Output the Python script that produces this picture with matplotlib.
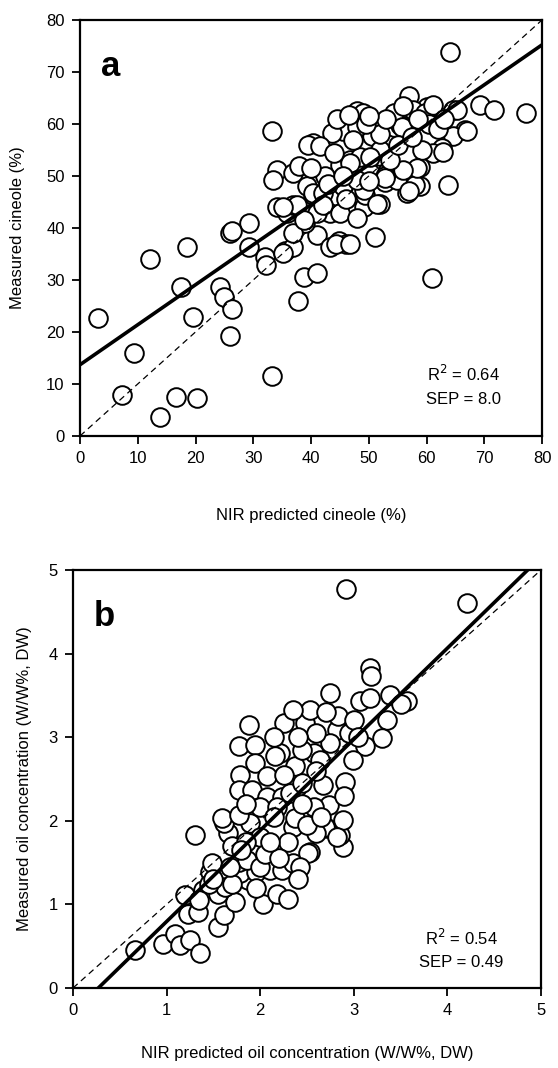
import numpy as np
import matplotlib
matplotlib.use("Agg")
import matplotlib.pyplot as plt

plt.rcParams['font.family'] = ['Liberation Sans', 'DejaVu Sans']

# --- panel a: cineole (%) ---
cineole_pred = [3.1, 7.3, 9.4, 12.2, 13.9, 16.6, 17.4, 18.5, 20.2, 19.6, 24.2, 24.9, 25.9, 26.4,
                25.9, 29.3, 29.3, 32.0, 32.2, 33.3, 35.5, 36.9, 37.7, 38.8, 41.1, 41.0, 43.2, 44.9,
                46.1, 51.1, 61.0, 43.3, 45.0, 39.0, 36.9, 40.4, 41.0, 49.2, 49.4, 51.9, 56.6, 58.9,
                63.8, 52.8, 34.1, 35.8, 36.9, 64.1, 69.3, 71.6, 77.3, 33.3, 56.9, 60.0, 64.6, 66.7,
                64.6, 62.6, 61.2, 58.9, 58.0, 54.8, 53.4, 51.9, 50.5, 54.3, 55.4, 57.7, 47.9, 49.0,
                47.3, 47.3, 45.6, 43.6, 40.4, 39.5, 45.0, 46.8, 48.5, 50.2, 52.8, 34.1, 33.5, 36.9,
                39.3, 40.4, 42.1, 45.6, 41.6, 37.5, 35.2, 38.7, 44.4, 26.3, 35.2, 54.3, 59.7, 61.2,
                65.2, 55.7, 47.9, 47.3, 59.2, 62.9, 67.0, 58.3, 56.0, 52.8, 56.9, 49.1, 51.4, 46.8,
                51.9, 53.7, 50.2, 46.8, 47.9, 42.5, 44.0, 46.0, 48.0, 50.0, 52.0, 55.0, 57.5, 60.5,
                62.0, 53.0, 44.5, 46.5, 42.0, 38.0, 40.0, 43.0, 45.5, 49.5, 58.5, 63.0, 56.0, 50.0]
cineole_meas = [22.7, 7.9, 16.0, 34.0, 3.6, 7.5, 28.6, 36.4, 7.3, 22.8, 28.7, 26.8, 19.2, 24.4,
                39.1, 41.0, 36.4, 34.5, 32.9, 11.5, 35.5, 36.4, 26.0, 30.5, 31.3, 38.7, 36.4, 37.4,
                36.9, 38.3, 30.3, 42.8, 42.8, 40.9, 39.0, 46.3, 42.8, 44.1, 46.3, 44.7, 46.8, 48.0,
                48.3, 48.9, 44.1, 42.8, 44.4, 73.9, 63.7, 62.7, 62.1, 58.7, 65.4, 63.3, 62.7, 58.8,
                57.6, 55.3, 54.4, 51.8, 48.3, 49.2, 51.2, 53.8, 57.6, 59.5, 59.8, 62.7, 62.4, 62.1,
                60.1, 57.6, 58.6, 58.2, 56.3, 56.0, 52.1, 53.1, 53.7, 50.5, 49.9, 51.2, 49.2, 50.5,
                48.0, 46.7, 46.7, 48.0, 55.7, 44.4, 44.1, 41.5, 37.0, 39.4, 35.1, 62.1, 62.1, 63.7,
                62.7, 59.5, 59.5, 56.9, 55.0, 54.7, 58.6, 51.6, 51.2, 49.6, 47.1, 47.3, 44.7, 37.0,
                55.0, 53.1, 53.7, 52.4, 49.2, 50.0, 54.5, 45.5, 42.0, 49.0, 58.0, 56.0, 57.5, 60.0,
                59.0, 61.0, 61.0, 61.8, 44.5, 52.0, 51.5, 48.5, 50.0, 60.0, 61.0, 61.0, 63.5, 61.5]
cineole_fit = (13.7, 0.769)  # intercept, slope

# --- panel b: oil concentration (W/W%, DW) ---
oil_pred = [0.66, 0.96, 1.09, 1.14, 1.25, 1.36, 1.30, 1.20, 1.23, 1.34, 1.39, 1.46, 1.55, 1.61,
            1.73, 1.55, 1.62, 1.87, 2.03, 1.78, 1.96, 2.10, 2.18, 2.14, 1.77, 1.66, 1.61, 1.89,
            1.48, 2.30, 2.89, 2.71, 2.53, 2.35, 2.23, 2.35, 2.85, 3.17, 3.18, 2.75, 3.07, 3.17,
            3.39, 3.57, 3.35, 3.30, 3.12, 2.99, 2.91, 2.67, 2.73, 2.89, 2.48, 2.53, 2.82, 2.83,
            2.37, 2.25, 2.21, 2.57, 2.39, 2.57, 2.37, 2.75, 2.64, 2.35, 1.88, 1.77, 1.94, 2.16,
            1.94, 1.78, 2.07, 1.77, 1.91, 2.07, 2.23, 1.59, 1.77, 2.00, 2.18, 2.32, 2.69, 2.51,
            2.00, 1.86, 2.60, 2.00, 2.43, 2.82, 2.92, 4.21, 2.25, 2.45, 2.60, 2.15, 2.45, 2.30,
            2.05, 1.70, 1.85, 2.60, 2.95, 3.00, 2.70, 2.40, 2.15, 1.85, 2.50, 2.65, 1.45, 1.35,
            1.70, 2.45, 2.90, 3.05, 3.50, 1.50, 1.68, 1.95, 2.20, 2.40, 1.80, 2.10]
oil_meas = [0.45, 0.53, 0.65, 0.51, 0.57, 0.42, 1.83, 1.11, 0.89, 0.91, 1.17, 1.39, 0.73, 0.87,
            1.03, 1.13, 1.21, 1.29, 1.01, 1.37, 1.39, 1.41, 1.13, 1.65, 1.51, 1.85, 1.97, 1.97,
            1.49, 1.07, 1.69, 1.91, 1.63, 1.93, 1.41, 1.49, 1.83, 3.83, 3.73, 3.53, 3.43, 3.47,
            3.51, 3.43, 3.21, 2.99, 2.89, 2.73, 2.47, 2.43, 2.19, 2.01, 3.17, 3.33, 3.09, 3.25,
            2.65, 3.17, 2.81, 2.81, 2.41, 2.17, 2.03, 2.93, 2.73, 3.33, 3.15, 2.89, 2.91, 2.77,
            2.69, 2.55, 2.53, 2.37, 2.37, 2.29, 2.29, 2.03, 2.07, 2.17, 2.17, 2.33, 1.93, 1.61,
            1.81, 1.53, 1.85, 1.45, 1.45, 1.81, 4.77, 4.61, 2.55, 2.85, 3.05, 2.05, 2.20, 1.75,
            1.60, 1.70, 1.75, 2.60, 3.05, 3.20, 3.30, 3.00, 3.00, 2.20, 1.95, 2.05, 1.25, 1.05,
            1.25, 2.45, 2.30, 3.00, 3.40, 1.30, 1.45, 1.20, 1.55, 1.30, 1.65, 1.75]
oil_fit = (-0.295, 1.09)

fig = plt.figure(figsize=(5.58, 10.68), dpi=100)
ax_a = fig.add_axes([0.1434, 0.5918, 0.828, 0.3895])
ax_b = fig.add_axes([0.1308, 0.0749, 0.8387, 0.3914])


def draw_panel(ax, xs, ys, fit, lim, ticks, letter, r2, sep, xlabel, ylabel, lx, ly, ty):
    ax.scatter(xs, ys, s=180, facecolor='white', edgecolor='black', linewidth=1.4, zorder=2)
    xx = np.array([0, lim])
    ax.plot(xx, xx, color='black', lw=0.9, ls=(0, (5, 3.5)), zorder=3)
    ax.plot(xx, fit[0] + fit[1] * xx, color='black', lw=2.6, zorder=3)
    ax.set_xlim(0, lim)
    ax.set_ylim(0, lim)
    ax.set_xticks(ticks)
    ax.set_yticks(ticks)
    ax.tick_params(direction='out', length=6, width=1.3, labelsize=12, pad=5,
                   top=False, right=False)
    for sp in ax.spines.values():
        sp.set_linewidth(1.6)
    ax.set_xlabel(xlabel, fontsize=12, labelpad=lx)
    ax.set_ylabel(ylabel, fontsize=12, labelpad=ly)
    ax.text(0.045, 0.865, letter, transform=ax.transAxes, fontsize=25,
            fontweight='bold', ha='left', va='baseline')
    ax.text(0.83, ty, r'R$^2$ = ' + r2, transform=ax.transAxes, fontsize=12,
            ha='center', va='center')
    ax.text(0.83, ty - 0.06, 'SEP = ' + sep, transform=ax.transAxes, fontsize=12,
            ha='center', va='center')


draw_panel(ax_a, cineole_pred, cineole_meas, cineole_fit, 80, range(0, 81, 10), 'a',
           '0.64', '8.0', 'NIR predicted cineole (%)', 'Measured cineole (%)', 30, 15, 0.148)
draw_panel(ax_b, oil_pred, oil_meas, oil_fit, 5, range(0, 6), 'b',
           '0.54', '0.49', 'NIR predicted oil concentration (W/W%, DW)',
           'Measured oil concentration (W/W%, DW)', 20, 12, 0.12)

fig.savefig('out.png', dpi=100)
